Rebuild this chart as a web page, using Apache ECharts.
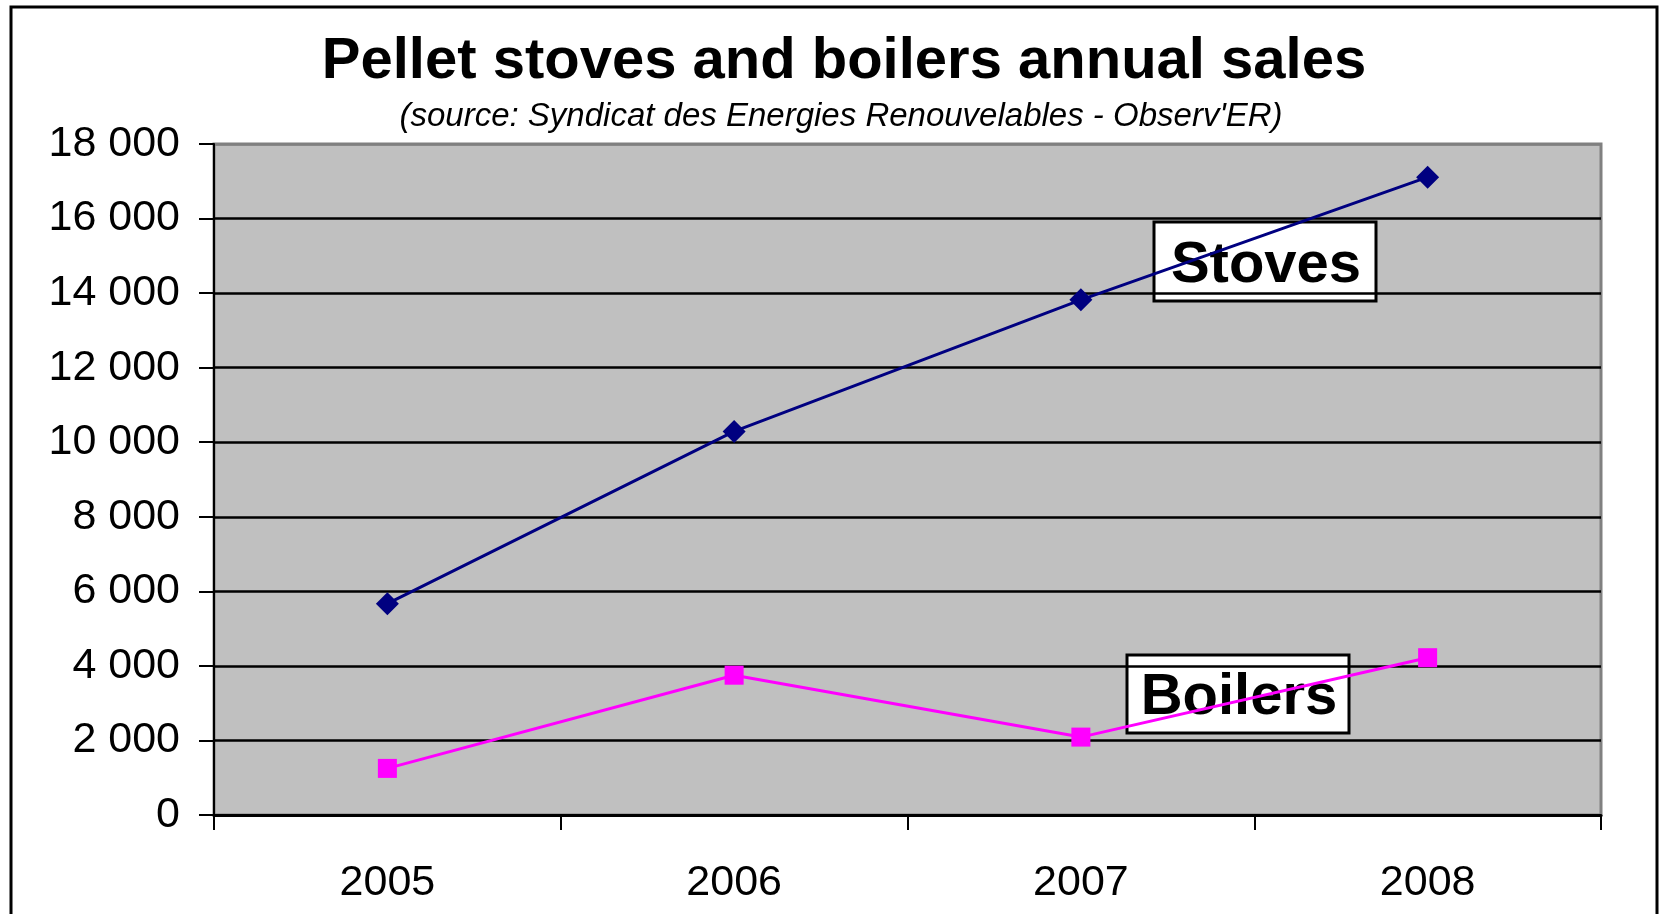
<!DOCTYPE html>
<html>
<head>
<meta charset="utf-8">
<script src="https://cdn.jsdelivr.net/npm/echarts@6/dist/echarts.min.js"></script>
<style>
html,body{margin:0;padding:0;background:#fff;}
#c{width:1659px;height:914px;}
</style>
</head>
<body>
<div id="c"></div>
<script>
const categories = ['2005', '2006', '2007', '2008'];
const stoves = [5670, 10290, 13820, 17110];
const boilers = [1250, 3750, 2090, 4220];
const yTicks = [0, 2000, 4000, 6000, 8000, 10000, 12000, 14000, 16000, 18000];
const titleText = 'Pellet stoves and boilers annual sales';
const subtitleText = "(source: Syndicat des Energies Renouvelables - Observ'ER)";
const seriesNames = ['Stoves', 'Boilers'];

const FONT = '"Liberation Sans", Arial, sans-serif';
const chart = echarts.init(document.getElementById('c'), null, {renderer: 'canvas'});

function fmt(v) {
  return String(v).replace(/\B(?=(\d{3})+(?!\d))/g, ' ');
}

function labelBox(x, y, w, h, text) {
  return {
    type: 'group',
    x: x, y: y,
    z: 100,
    children: [
      {type: 'rect', shape: {x: 0, y: 0, width: w, height: h},
       style: {fill: '#ffffff', stroke: '#000000', lineWidth: 3}},
      {type: 'text', x: w / 2 + 1, y: h / 2 + 4,
       style: {text: text, font: 'bold 58px ' + FONT, fill: '#000',
               textAlign: 'center', textVerticalAlign: 'middle'}}
    ]
  };
}

const splitColors = yTicks.map((t, i) => i === yTicks.length - 1 ? '#808080' : '#000000');

chart.setOption({
  animation: false,
  backgroundColor: '#ffffff',
  title: [
    {text: titleText, left: 839, top: 57, textAlign: 'center', textVerticalAlign: 'middle',
     textStyle: {fontFamily: FONT, fontSize: 58, fontWeight: 'bold', color: '#000'}},
    {text: subtitleText, left: 836, top: 112, textAlign: 'center', textVerticalAlign: 'middle',
     textStyle: {fontFamily: FONT, fontSize: 33, fontStyle: 'italic', fontWeight: 'normal', color: '#000'}}
  ],
  grid: {
    left: 214, right: 58, top: 144, bottom: 99,
    show: true, backgroundColor: '#c0c0c0', borderColor: '#808080', borderWidth: 3
  },
  xAxis: {
    type: 'category',
    data: categories,
    boundaryGap: true,
    axisLine: {show: true, lineStyle: {color: '#000', width: 3}},
    axisTick: {show: true, inside: false, length: 15, lineStyle: {color: '#000', width: 2}},
    axisLabel: {margin: 47, fontFamily: FONT, fontSize: 43, color: '#000'},
    splitLine: {show: false}
  },
  yAxis: {
    type: 'value',
    min: 0, max: 18000, interval: 2000,
    axisLine: {show: true, lineStyle: {color: '#000', width: 2}},
    axisTick: {show: true, inside: false, length: 15, lineStyle: {color: '#000', width: 2}},
    axisLabel: {margin: 34, fontFamily: FONT, fontSize: 43, color: '#000', formatter: fmt},
    splitLine: {show: true, lineStyle: {color: splitColors, width: 2.5}}
  },
  series: [
    {
      name: seriesNames[0], type: 'line', data: stoves,
      symbol: 'diamond', symbolSize: 23,
      lineStyle: {color: '#000080', width: 3},
      itemStyle: {color: '#000080'},
      z: 5
    },
    {
      name: seriesNames[1], type: 'line', data: boilers,
      symbol: 'rect', symbolSize: 19,
      lineStyle: {color: '#ff00ff', width: 3},
      itemStyle: {color: '#ff00ff'},
      z: 5
    }
  ],
  graphic: [
    {type: 'rect', shape: {x: 11, y: 7, width: 1646, height: 1000},
     style: {fill: 'none', stroke: '#000', lineWidth: 3}, z: 200, silent: true},
    labelBox(1154, 222, 222, 79, seriesNames[0]),
    labelBox(1127, 655, 222, 78, seriesNames[1])
  ]
});
</script>
</body>
</html>
